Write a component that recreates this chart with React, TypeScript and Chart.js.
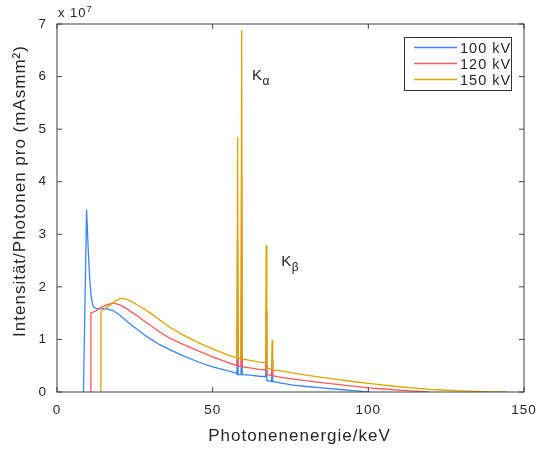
import React, { useEffect, useRef } from "react";
import { Chart, registerables } from "chart.js";

Chart.register(...registerables);

// ---------- data (intensity in units of 1e7 photons / (mAs mm²)) ----------
const seriesLabels = ["100 kV", "120 kV", "150 kV"];
const seriesColors = ["#3a86ff", "#ff5a5a", "#dba600"];

const energy100 = [
  8.5, 9.5, 10.0, 10.5, 11.0, 11.5, 12.0, 13.0, 14.0, 16.0, 18.0, 20.0, 22.0, 24.0, 26.0, 28.0,
  30.0, 33.0, 36.0, 40.0, 45.0, 50.0, 55.0, 57.5, 57.8, 58.0, 58.2, 59.1, 59.3, 59.5, 62.0, 65.0,
  67.0, 67.2, 67.4, 68.9, 69.1, 69.3, 72.0, 76.0, 80.0, 85.0, 90.0, 95.0, 100.0,
];
const intensity100 = [
  0.0, 3.47, 2.75, 2.15, 1.8, 1.65, 1.6, 1.58, 1.59, 1.58, 1.55, 1.47, 1.37, 1.27, 1.18, 1.09,
  1.01, 0.9, 0.81, 0.7, 0.58, 0.48, 0.4, 0.36, 0.34, 1.25, 0.33, 0.33, 1.9, 0.33, 0.32, 0.3,
  0.29, 0.75, 0.22, 0.2, 0.45, 0.2, 0.17, 0.13, 0.105, 0.078, 0.052, 0.026, 0.0,
];

const energy120 = [
  10.8, 10.9, 11.5, 12.0, 13.0, 14.0, 16.0, 18.0, 20.0, 22.0, 24.0, 26.0, 28.0, 30.0, 33.0, 36.0,
  40.0, 45.0, 50.0, 55.0, 57.8, 58.0, 58.2, 59.1, 59.3, 59.5, 62.0, 65.0, 67.0, 67.2, 67.4, 68.9,
  69.1, 69.3, 72.0, 76.0, 80.0, 85.0, 90.0, 95.0, 100.0, 105.0, 110.0, 115.0, 119.5,
];
const intensity120 = [
  0.0, 1.5, 1.52, 1.53, 1.56, 1.6, 1.66, 1.69, 1.66, 1.6, 1.52, 1.44, 1.35, 1.27, 1.14, 1.03,
  0.92, 0.79, 0.67, 0.56, 0.5, 2.9, 0.49, 0.49, 4.1, 0.48, 0.46, 0.43, 0.42, 1.55, 0.33, 0.32,
  0.62, 0.31, 0.28, 0.245, 0.215, 0.18, 0.145, 0.11, 0.08, 0.057, 0.035, 0.016, 0.0,
];

const energy150 = [
  14.0, 14.1, 15.0, 16.0, 18.0, 20.0, 21.0, 22.0, 24.0, 26.0, 28.0, 30.0, 33.0, 36.0, 40.0, 45.0,
  50.0, 55.0, 57.8, 58.0, 58.2, 59.1, 59.3, 59.5, 62.0, 65.0, 67.0, 67.2, 67.4, 68.9, 69.1, 69.3,
  72.0, 76.0, 80.0, 85.0, 90.0, 95.0, 100.0, 105.0, 110.0, 115.0, 120.0, 125.0, 130.0, 135.0,
  140.0, 144.5,
];
const intensity150 = [
  0.0, 1.54, 1.57, 1.61, 1.7, 1.77, 1.78, 1.77, 1.72, 1.65, 1.58, 1.5, 1.37, 1.24, 1.1, 0.95,
  0.82, 0.7, 0.65, 4.85, 0.64, 0.64, 6.88, 0.63, 0.6, 0.57, 0.56, 2.79, 0.45, 0.44, 0.99, 0.42,
  0.4, 0.36, 0.32, 0.28, 0.24, 0.2, 0.165, 0.13, 0.1, 0.075, 0.05, 0.033, 0.02, 0.01,
  0.004, 0.0,
];

const xMin = 0;
const xMax = 150;
const xStep = 50;
const yMin = 0;
const yMax = 7;
const yStep = 1;
const yExponent = "7";

const xTitle = "Photonenenergie/keV";
const yTitle = "Intensität/Photonen pro (mAsmm²)";

const lineNames = ["K", "K"];
const lineSubs = ["α", "β"];
const lineLabelEnergy = [62.6, 72.0];
const lineLabelIntensity = [6.02, 2.47];

// ---------- styling ----------
const FONT = "'Liberation Sans', Arial, Helvetica, sans-serif";
const TEXT = "#262626";
const AXIS = "#404040";
const SPACING = "1px";

function setSpacing(chart: any) {
  try {
    (chart.ctx as any).letterSpacing = SPACING;
  } catch (e) {}
}

const decorPlugin = {
  id: "decor",
  beforeUpdate(chart: any) {
    setSpacing(chart);
  },
  beforeLayout(chart: any) {
    setSpacing(chart);
  },
  beforeDraw(chart: any) {
    setSpacing(chart);
  },
  afterDraw(chart: any) {
    const { ctx, chartArea: a, scales } = chart;
    const xs = scales.x;
    const ys = scales.y;
    ctx.save();
    ctx.letterSpacing = SPACING;

    // box
    ctx.strokeStyle = AXIS;
    ctx.lineWidth = 1;
    ctx.strokeRect(a.left, a.top, a.right - a.left, a.bottom - a.top);

    // inward ticks on all four sides
    const tl = 5;
    ctx.beginPath();
    for (const t of xs.ticks) {
      const px = xs.getPixelForValue(t.value);
      ctx.moveTo(px, a.bottom);
      ctx.lineTo(px, a.bottom - tl);
      ctx.moveTo(px, a.top);
      ctx.lineTo(px, a.top + tl);
    }
    for (const t of ys.ticks) {
      const py = ys.getPixelForValue(t.value);
      ctx.moveTo(a.left, py);
      ctx.lineTo(a.left + tl, py);
      ctx.moveTo(a.right, py);
      ctx.lineTo(a.right - tl, py);
    }
    ctx.stroke();

    // axis titles
    ctx.fillStyle = TEXT;
    ctx.font = `17px ${FONT}`;
    ctx.textAlign = "center";
    ctx.textBaseline = "middle";
    ctx.fillText(xTitle, (a.left + a.right) / 2 + 9, a.bottom + 44);
    ctx.save();
    ctx.translate(20, (a.top + a.bottom) / 2 - 17);
    ctx.rotate(-Math.PI / 2);
    ctx.fillText(yTitle, 0, 0);
    ctx.restore();

    // exponent  "x 10^7"
    ctx.textBaseline = "alphabetic";
    ctx.textAlign = "left";
    ctx.font = `13px ${FONT}`;
    const expX = a.left + 1;
    const expY = a.top - 7;
    ctx.fillText("x 10", expX, expY);
    const w = ctx.measureText("x 10").width;
    ctx.font = `9.5px ${FONT}`;
    ctx.fillText(yExponent, expX + w, expY - 5);

    // K-line annotations
    for (let i = 0; i < lineNames.length; i++) {
      const px = xs.getPixelForValue(lineLabelEnergy[i]);
      const py = ys.getPixelForValue(lineLabelIntensity[i]);
      ctx.font = `15px ${FONT}`;
      ctx.textBaseline = "middle";
      ctx.fillText(lineNames[i], px, py);
      const kw = ctx.measureText(lineNames[i]).width;
      ctx.font = `12px ${FONT}`;
      ctx.fillText(lineSubs[i], px + kw - 0.5, py + 6);
    }

    // legend
    const lx = 404;
    const ly = 37;
    const lw = 107;
    const lh = 53;
    ctx.fillStyle = "#ffffff";
    ctx.fillRect(lx, ly, lw, lh);
    ctx.strokeStyle = "#333333";
    ctx.lineWidth = 1;
    ctx.strokeRect(lx + 0.5, ly + 0.5, lw, lh);
    chart.data.datasets.forEach((ds: any, i: number) => {
      const rowY = ly + 10.5 + i * 16;
      ctx.strokeStyle = ds.borderColor;
      ctx.lineWidth = 1.5;
      ctx.beginPath();
      ctx.moveTo(lx + 10, rowY);
      ctx.lineTo(lx + 53, rowY);
      ctx.stroke();
      ctx.fillStyle = TEXT;
      ctx.font = `14.5px ${FONT}`;
      ctx.textBaseline = "middle";
      ctx.textAlign = "left";
      ctx.fillText(ds.label, lx + 56, rowY + 1);
    });

    ctx.restore();
  },
};

function toPoints(xs: number[], ys: number[]) {
  return xs.map((x, i) => ({ x, y: ys[i] }));
}

export default function App() {
  const ref = useRef<HTMLCanvasElement | null>(null);

  useEffect(() => {
    document.body.style.margin = "0";
    const canvas = ref.current;
    if (!canvas) return;
    const energies = [energy100, energy120, energy150];
    const intensities = [intensity100, intensity120, intensity150];
    const chart = new Chart(canvas, {
      type: "line",
      data: {
        datasets: seriesLabels.map((label, i) => ({
          label,
          data: toPoints(energies[i], intensities[i]),
          borderColor: seriesColors[i],
          backgroundColor: seriesColors[i],
          borderWidth: 1.3,
          pointRadius: 0,
          tension: 0,
          fill: false,
          order: seriesLabels.length - i,
        })),
      },
      options: {
        animation: false,
        responsive: false,
        maintainAspectRatio: false,
        layout: { padding: { top: 24, right: 12, left: 0, bottom: 0 } },
        plugins: {
          legend: { display: false },
          tooltip: { enabled: false },
        },
        scales: {
          x: {
            type: "linear",
            min: xMin,
            max: xMax,
            grid: { display: false, drawTicks: false },
            border: { display: false },
            ticks: {
              stepSize: xStep,
              padding: 10,
              color: TEXT,
              font: { family: FONT, size: 13.5 },
              maxRotation: 0,
              autoSkip: false,
            },
            title: { display: false, text: xTitle },
            afterFit(scale: any) {
              scale.height = 58;
              scale.paddingLeft = 0;
              scale.paddingRight = 0;
            },
          },
          y: {
            type: "linear",
            min: yMin,
            max: yMax,
            grid: { display: false, drawTicks: false },
            border: { display: false },
            ticks: {
              stepSize: yStep,
              padding: 10,
              color: TEXT,
              font: { family: FONT, size: 13.5 },
              autoSkip: false,
            },
            title: { display: false, text: yTitle },
            afterFit(scale: any) {
              scale.width = 57;
              scale.paddingTop = 0;
              scale.paddingBottom = 0;
            },
          },
        },
      },
      plugins: [decorPlugin],
    } as any);
    return () => chart.destroy();
  }, []);

  return (
    <canvas
      ref={ref}
      width={536}
      height={450}
      style={{ display: "block", width: 536, height: 450 }}
    />
  );
}
